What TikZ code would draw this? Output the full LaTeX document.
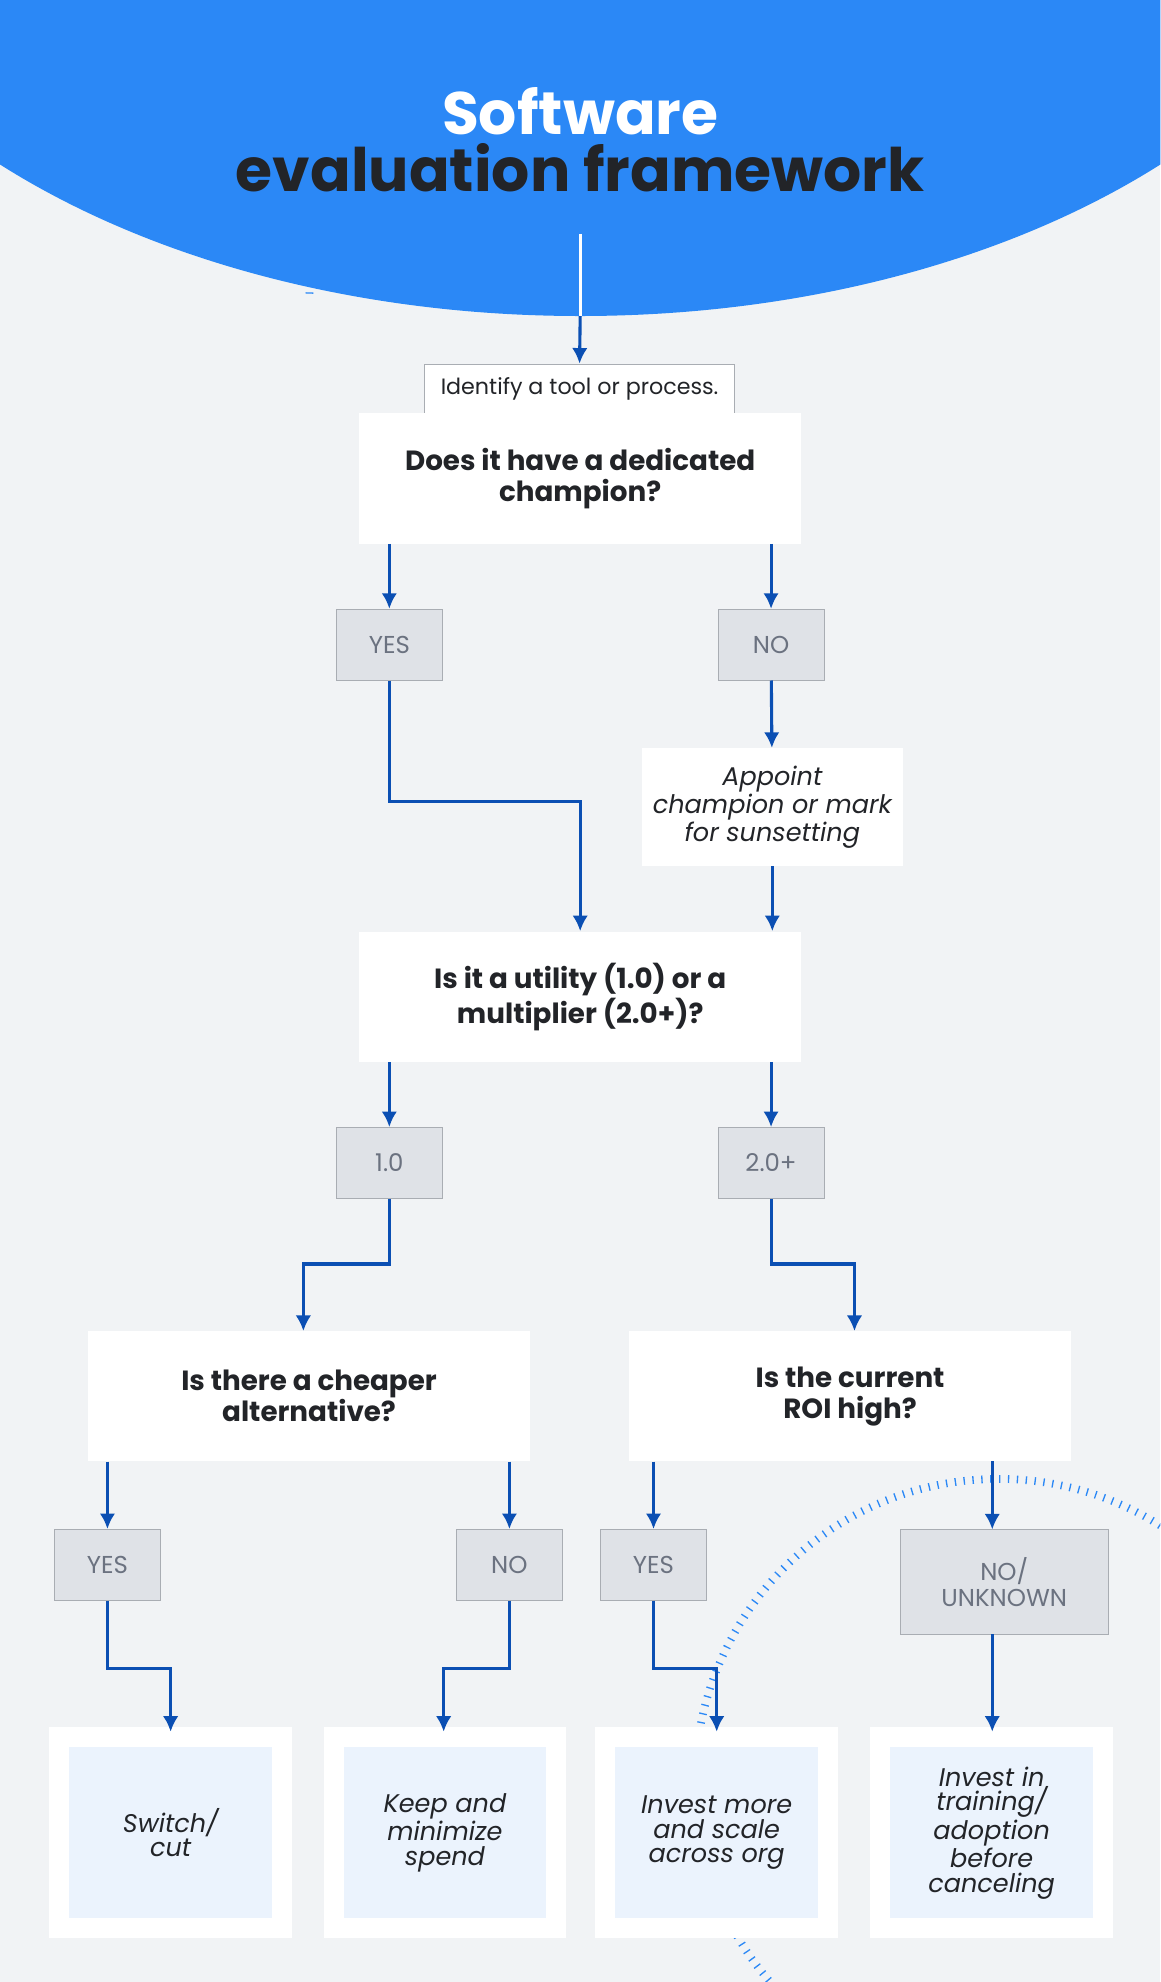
\documentclass[tikz,border=0pt]{standalone}
\usepackage{fontspec}
\setmainfont{Poppins}
\definecolor{bg}{HTML}{F1F3F5}
\definecolor{head}{HTML}{2B88F6}
\definecolor{arr}{HTML}{0B4FB3}
\definecolor{greybox}{HTML}{DFE2E7}
\definecolor{greyline}{HTML}{A9ADB3}
\definecolor{greytext}{HTML}{6B7280}
\definecolor{ink}{HTML}{222428}
\definecolor{pale}{HTML}{EBF3FD}
\tikzset{
  question/.style={fill=white, text=ink, font=\bfseries\fontsize{12.5}{14}\selectfont, align=center, inner sep=0},
  answer/.style={fill=greybox, draw=greyline, text=greytext, font=\fontsize{11}{12}\selectfont, align=center, inner sep=0},
  outcome/.style={fill=pale, draw=white, line width=9pt, text=ink, font=\itshape\fontsize{11.5}{11}\selectfont, align=center, inner sep=0},
  flow/.style={arr, line width=1.4pt, -{Latex[length=7pt,width=7pt]}},
  ticks/.style={head, line width=3.5pt, dash pattern=on 0.6pt off 3.4pt}
}
\usetikzlibrary{arrows.meta}
\begin{document}
\begin{tikzpicture}[x=0.02cm, y=-0.02cm]
  \useasboundingbox (0,0) rectangle (918,1568);
  \clip (0,0) rectangle (918,1568);
  \fill[bg] (0,0) rectangle (918,1568);

  % dotted arcs
  \draw[ticks] (35,225) ++(2:210) arc (2:-100:210);
  \draw[ticks] (790,1410) circle (240);

  % header
  \fill[head] (459,-150) ellipse (643 and 400);
  \node[white, font=\bfseries\fontsize{27}{30}\selectfont] at (459,88) {Software};
  \node[ink, font=\bfseries\fontsize{27}{30}\selectfont] at (459,133) {evaluation framework};
  \draw[white, line width=1.4pt] (459,185) -- (459,250);

  % nodes
  \node[fill=white, draw=greyline, text=ink, font=\fontsize{10}{12}\selectfont, minimum width=245*0.02cm, minimum height=40*0.02cm, inner sep=0] (start) at (458.5,308) {Identify a tool or process.};
  \node[question, minimum width=350*0.02cm, minimum height=103*0.02cm] (q1) at (459,378.5) {Does it have a dedicated\\champion?};
  \node[answer, minimum width=84*0.02cm, minimum height=56*0.02cm] (yes1) at (308,510) {YES};
  \node[answer, minimum width=84*0.02cm, minimum height=56*0.02cm] (no1) at (610,510) {NO};
  \node[fill=white, text=ink, font=\itshape\fontsize{11.5}{11}\selectfont, align=center, minimum width=206*0.02cm, minimum height=93*0.02cm, inner sep=0] (appoint) at (611,638.5) {Appoint\\champion or mark\\for sunsetting};
  \node[question, minimum width=350*0.02cm, minimum height=103*0.02cm] (q2) at (459,788.5) {Is it a utility (1.0) or a\\multiplier (2.0+)?};
  \node[answer, minimum width=84*0.02cm, minimum height=56*0.02cm] (util) at (308,920) {1.0};
  \node[answer, minimum width=84*0.02cm, minimum height=56*0.02cm] (mult) at (610,920) {2.0+};
  \node[question, minimum width=349*0.02cm, minimum height=103*0.02cm] (q3) at (244.5,1104.5) {Is there a cheaper\\alternative?};
  \node[question, minimum width=349*0.02cm, minimum height=103*0.02cm] (q4) at (672.5,1104.5) {Is the current\\ROI high?};
  \node[answer, minimum width=84*0.02cm, minimum height=56*0.02cm] (yes3) at (85,1238) {YES};
  \node[answer, minimum width=84*0.02cm, minimum height=56*0.02cm] (no3) at (403,1238) {NO};
  \node[answer, minimum width=84*0.02cm, minimum height=56*0.02cm] (yes4) at (517,1238) {YES};
  \node[answer, minimum width=165*0.02cm, minimum height=83*0.02cm] (no4) at (794.5,1251.5) {NO/\\UNKNOWN};
  \node[outcome, minimum width=176*0.02cm, minimum height=151*0.02cm] (cut) at (135,1450) {Switch/\\cut};
  \node[outcome, minimum width=176*0.02cm, minimum height=151*0.02cm] (keep) at (352,1450) {Keep and\\minimize\\spend};
  \node[outcome, minimum width=176*0.02cm, minimum height=151*0.02cm] (scale) at (567,1450) {Invest more\\and scale\\across org};
  \node[outcome, minimum width=176*0.02cm, minimum height=151*0.02cm] (train) at (784.5,1450) {Invest in\\training/\\adoption\\before\\canceling};

  % connectors
  \draw[flow] (459,250) -- (start.north);
  \draw[flow] (q1.south -| yes1) -- (yes1);
  \draw[flow] (q1.south -| no1) -- (no1);
  \draw[flow] (yes1) |- (459,634) -- (q2.north);
  \draw[flow] (no1) -- (appoint);
  \draw[flow] (appoint) -- (q2.north -| appoint);
  \draw[flow] (q2.south -| util) -- (util);
  \draw[flow] (q2.south -| mult) -- (mult);
  \draw[flow] (util) |- (240,1000) -- (240,1053);
  \draw[flow] (mult) |- (676,1000) -- (676,1053);
  \draw[flow] (q3.south -| yes3) -- (yes3);
  \draw[flow] (q3.south -| no3) -- (no3);
  \draw[flow] (q4.south -| yes4) -- (yes4);
  \draw[flow] (785,1156) -- (785,1210);
  \draw[flow] (yes3) |- (135,1320) -- (135,1370);
  \draw[flow] (no3) |- (351,1320) -- (351,1370);
  \draw[flow] (yes4) |- (567,1320) -- (567,1370);
  \draw[flow] (785,1293) -- (785,1370);
\end{tikzpicture}
\end{document}
